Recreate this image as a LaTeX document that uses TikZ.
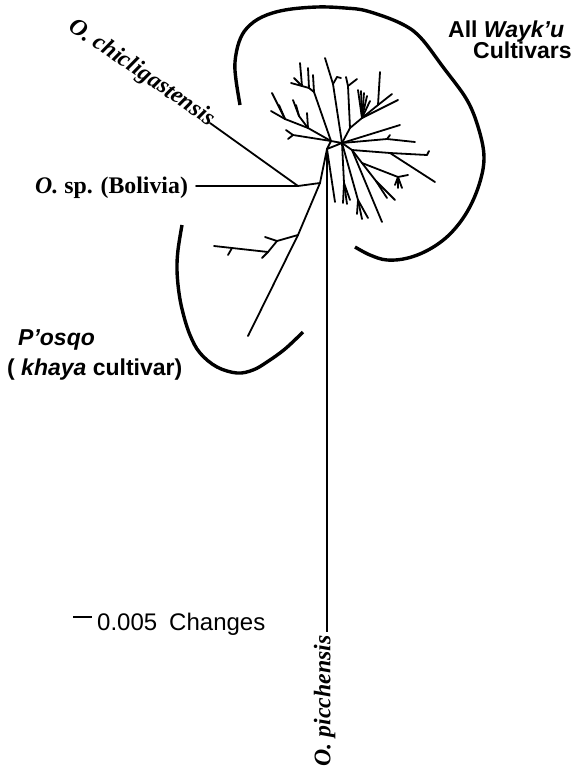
\documentclass[tikz,border=0pt]{standalone}
\usepackage{fontspec}
\setmainfont{Liberation Serif}
\setsansfont{Liberation Sans}
\newcommand\mybr[3]{\coordinate (#2) at (#3);\draw[br] (#1)--(#2);}
\begin{document}
\begin{tikzpicture}[x=1pt,y=-1pt,
  br/.style={line width=1.8pt,line cap=round,line join=round},
  stem/.style={line width=1.4pt},
  bracket/.style={line width=3.4pt,line cap=butt},
  sanslab/.style={font=\sffamily\bfseries\fontsize{23}{25}\selectfont,inner sep=0pt},
  serlab/.style={font=\rmfamily\bfseries\fontsize{23.8}{26}\selectfont,inner sep=0pt},
  scalelab/.style={font=\sffamily\fontsize{24}{26}\selectfont,inner sep=0pt}]
\useasboundingbox (0,0) rectangle (576,769);
\fill[white] (0,0) rectangle (576,769);

% brackets
\draw[bracket] plot[smooth,tension=0.6] coordinates {(240,105) (236,80) (235,62) (239,42) (247,28) (262,17) (285,10) (317,7) (345,8) (367,11) (400,23) (420,37) (443,67) (467,100) (479,130) (484,158) (479,185) (467,212) (450,234) (430,249) (408,258) (387,260) (370,255) (355,247)};
\draw[bracket] plot[smooth,tension=0.6] coordinates {(182,225) (178,250) (177,270) (179,293) (183,313) (190,335) (200,353) (217,367) (237,373) (253,370) (267,362) (285,349) (303,332)};

% root
\coordinate (R) at (327,149);
\coordinate (L) at (331,141);
\coordinate (H) at (342,143);
\draw[br] (R)--(L)--(H)--cycle;
\coordinate (pic) at (327,632);
\draw[stem] (R)--(pic);

% outgroups
\mybr{R}{J1}{320,183}
\mybr{J1}{J2}{298,186}
\mybr{J2}{bolend}{196,186}
\mybr{J2}{chiend}{210,123}
\mybr{J1}{B}{298,235}
\mybr{B}{posq}{248,336}
\mybr{B}{C}{277,241}
\mybr{C}{c1}{265,237}
\mybr{C}{D}{268,252}
\mybr{D}{T1}{232,248}
\mybr{T1}{d1}{214,246}
\mybr{T1}{d2}{228,255}
\mybr{D}{d3}{262,258}

% Wayk'u clade A
\mybr{L}{A1}{314,92}
\mybr{A1}{a1}{313,75}
\mybr{A1}{A2}{309,88}
\mybr{A2}{a2}{308,68}
\mybr{A2}{A3}{302,86}
\mybr{A3}{a3}{300,63}
\mybr{A3}{a4}{291,83}
\mybr{A3}{a5}{294,78}
% clade B
\mybr{H}{B1}{333,84}
\mybr{B1}{b1}{325,58}
\mybr{B1}{B2}{337,77}
\mybr{B2}{b2}{341,78}
% clade C
\mybr{H}{C0}{350,128}
\mybr{C0}{C1}{348,86}
\mybr{C1}{cw1}{357,79}
\mybr{C1}{cw2}{346,77}
\mybr{C0}{D1}{362,118}
\mybr{D1}{dw1}{398,100}
\mybr{D1}{D3}{378,105}
\mybr{D3}{dw2}{392,94}
\mybr{D3}{dw3}{380,72}
\mybr{D1}{dx1}{358,90}
\mybr{D1}{dx2}{361,91}
\mybr{D1}{dx3}{364,93}
\mybr{D1}{dx4}{367,96}
\mybr{D1}{dx5}{370,101}
% right side
\mybr{H}{ew1}{400,125}
\mybr{H}{E0}{387,139}
\mybr{E0}{ew2}{415,142}
\mybr{E0}{ew3}{390,135}
\mybr{H}{K0}{352,150}
\mybr{K0}{F1}{390,153}
\mybr{F1}{fw1}{427,155}
\mybr{fw1}{fw1t}{429,151}
\mybr{F1}{fw2}{435,182}
\mybr{K0}{kw}{382,222}
\mybr{K0}{G0}{362,163}
\mybr{G0}{G1}{398,177}
\mybr{G1}{gw1}{408,175}
\mybr{G1}{gw2}{402,188}
\mybr{G1}{gw3}{398,188}
\mybr{G1}{gw4}{395,185}
\mybr{G0}{G2}{376,181}
\mybr{G2}{gw5}{395,200}
\mybr{G2}{gw6}{387,198}
% downward
\mybr{R}{rw}{335,202}
\mybr{H}{M0}{344,183}
\mybr{M0}{mw1}{347,204}
\mybr{M0}{mw2}{343,203}
\mybr{M0}{mw3}{350,200}
\mybr{H}{N0}{358,200}
\mybr{N0}{nw1}{368,218}
\mybr{N0}{nw2}{362,219}
\mybr{N0}{nw3}{357,214}
% left-mid
\mybr{L}{E1}{308,128}
\mybr{E1}{E2}{285,119}
\mybr{E2}{ew4}{271,111}
\mybr{E2}{ew5}{272,93}
\mybr{E2}{ew8}{279,105}
\mybr{E1}{E3}{299,116}
\mybr{E3}{ew6}{293,100}
\mybr{E3}{ew9}{296,105}
\mybr{E1}{ew7}{307,113}
\mybr{L}{F1l}{293,135}
\mybr{F1l}{flw1}{286,130}
\mybr{F1l}{flw2}{288,139}

% labels
\node[sanslab,anchor=base west] (allw) at (448,37) {All \textit{Wayk’u}};
\node[sanslab,anchor=base west] (cult) at (473,58) {Cultivars};
\node[sanslab,anchor=base west] (posl) at (18,345) {\textit{P’osqo}};
\node[sanslab,anchor=base west] (khl) at (7,375) {( \textit{khaya} cultivar)};
\node[serlab,anchor=base west] (boll) at (35,193) {\textit{O.} sp. (Bolivia)};
\node[serlab,rotate=-34.4,anchor=mid] (chil) at (140,76) {\textit{O. chicligastensis}};
\node[serlab,rotate=90,anchor=mid] (picl) at (328,701) {\textit{O. picchensis}};
\coordinate (s1) at (73,617);
\coordinate (s2) at (92,617);
\draw[stem] (s1)--(s2);
\node[scalelab,anchor=base west] (scl) at (97,630) {0.005\hspace{0.5em}Changes};
\end{tikzpicture}
\end{document}
